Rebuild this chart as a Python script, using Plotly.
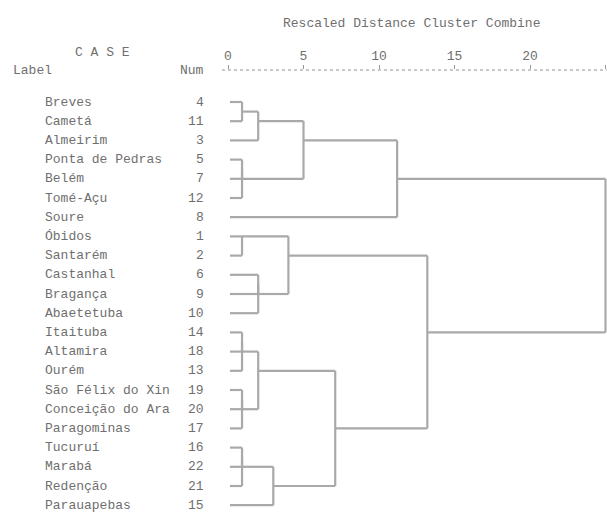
import plotly.graph_objects as go

# ---- data ----
labels = ["Breves", "Cametá", "Almeirim", "Ponta de Pedras", "Belém", "Tomé-Açu",
          "Soure", "Óbidos", "Santarém", "Castanhal", "Bragança", "Abaetetuba",
          "Itaituba", "Altamira", "Ourém", "São Félix do Xin", "Conceição do Ara",
          "Paragominas", "Tucuruí", "Marabá", "Redenção", "Parauapebas"]
nums = [4, 11, 3, 5, 7, 12, 8, 1, 2, 6, 9, 10, 14, 18, 13, 19, 20, 17, 16, 22, 21, 15]

# merges: node ids 0..21 are leaves (row order), 22.. are merges in order
merge_left = [0, 22, 3, 24, 23, 26, 7, 9, 29, 28, 12, 32, 15, 34, 33, 18, 37, 38, 36, 31, 27]
merge_right = [1, 2, 4, 5, 25, 6, 8, 10, 11, 30, 13, 14, 16, 17, 35, 19, 20, 21, 39, 40, 41]
merge_dist = [0.93, 2.0, 0.93, 0.93, 5.0, 11.2, 0.93, 2.0, 2.0, 4.0, 0.93, 0.93,
              0.93, 0.93, 2.0, 0.93, 0.93, 3.0, 7.1, 13.2, 25.0]
merge_row = [1.5, 2, 4.5, 5, 3, 5, 8, 10.5, 11, 9, 13.5, 14, 16.5, 17, 15,
             19.5, 20, 21, 18, 13, 9]

axis_ticks = [0, 5, 10, 15, 20, 25]
title_text = "Rescaled Distance Cluster Combine"

# ---- build dendrogram segments ----
LEAF_X = 0.13
n = len(labels)
node_x = {i: LEAF_X for i in range(n)}
node_row = {i: i + 1 for i in range(n)}
xs, ys = [], []
for k in range(len(merge_dist)):
    nid = n + k
    a, b, d = merge_left[k], merge_right[k], merge_dist[k]
    for c in (a, b):
        xs += [node_x[c], d, None]
        ys += [node_row[c], node_row[c], None]
    xs += [d, d, None]
    ys += [node_row[a], node_row[b], None]
    node_x[nid] = d
    node_row[nid] = merge_row[k]

W, H = 607, 518
TOP = 70
PX_PER_UNIT = 15.1
X0_PX = 228
ROW1_PX, ROW_STEP = 102, 19.2

x_range = [-X0_PX / PX_PER_UNIT, (W - X0_PX) / PX_PER_UNIT]
y_top = 1 - (ROW1_PX - TOP) / ROW_STEP
y_bot = 1 + (H - ROW1_PX) / ROW_STEP

LINE_C = "#a9a9a9"
TEXT_C = "#6f6f6f"
FONT = "Liberation Mono, Courier New, monospace"


def px_x(px):
    return px / W


def px_y(px):
    return (H - px) / (H - TOP)


fig = go.Figure()
fig.add_trace(go.Scatter(x=xs, y=ys, mode="lines",
                         line=dict(color=LINE_C, width=2.2),
                         hoverinfo="skip", showlegend=False, cliponaxis=False))

ann = []
for i, (lab, num) in enumerate(zip(labels, nums)):
    ann.append(dict(x=px_x(43), xref="paper", y=i + 1, yref="y", text=lab,
                    showarrow=False, xanchor="left", yanchor="middle",
                    font=dict(family=FONT, size=13, color=TEXT_C)))
    ann.append(dict(x=px_x(206), xref="paper", y=i + 1, yref="y", text=str(num),
                    showarrow=False, xanchor="right", yanchor="middle",
                    font=dict(family=FONT, size=13, color=TEXT_C)))

ann.append(dict(x=px_x(102), xref="paper", y=px_y(53), yref="paper", text="C A S E",
                showarrow=False, xanchor="center", yanchor="middle",
                font=dict(family=FONT, size=13, color=TEXT_C)))
ann.append(dict(x=px_x(11), xref="paper", y=px_y(70), yref="paper", text="Label",
                showarrow=False, xanchor="left", yanchor="middle",
                font=dict(family=FONT, size=13, color=TEXT_C)))
ann.append(dict(x=px_x(206), xref="paper", y=px_y(70), yref="paper", text="Num",
                showarrow=False, xanchor="right", yanchor="middle",
                font=dict(family=FONT, size=13, color=TEXT_C)))
ann.append(dict(x=px_x(411), xref="paper", y=px_y(23), yref="paper", text=title_text,
                showarrow=False, xanchor="center", yanchor="middle",
                font=dict(family=FONT, size=13, color=TEXT_C)))

fig.update_layout(
    width=W, height=H,
    margin=dict(l=0, r=0, t=TOP, b=0, autoexpand=False),
    paper_bgcolor="white", plot_bgcolor="white",
    annotations=ann,
    xaxis=dict(range=x_range, side="top", tickvals=axis_ticks,
               ticktext=[str(t) for t in axis_ticks], automargin=False,
               showgrid=False, zeroline=False, showline=False,
               ticks="outside", ticklen=4, tickcolor="#999999", tickwidth=1,
               tickfont=dict(family=FONT, size=13, color=TEXT_C)),
    yaxis=dict(range=[y_bot, y_top], showgrid=False, zeroline=False, automargin=False,
               showticklabels=False, showline=False, ticks=""),
    shapes=[dict(type="line", xref="x", yref="paper", x0=-0.4, x1=x_range[1],
                 y0=1, y1=1, line=dict(color="#b5b5b5", width=1.5, dash="dot"))],
)

fig.write_html(
    "out.html",
    config={"displayModeBar": False},
    post_script="document.body.style.margin='0';document.body.style.overflow='hidden';"
                "document.documentElement.style.overflow='hidden';",
)
